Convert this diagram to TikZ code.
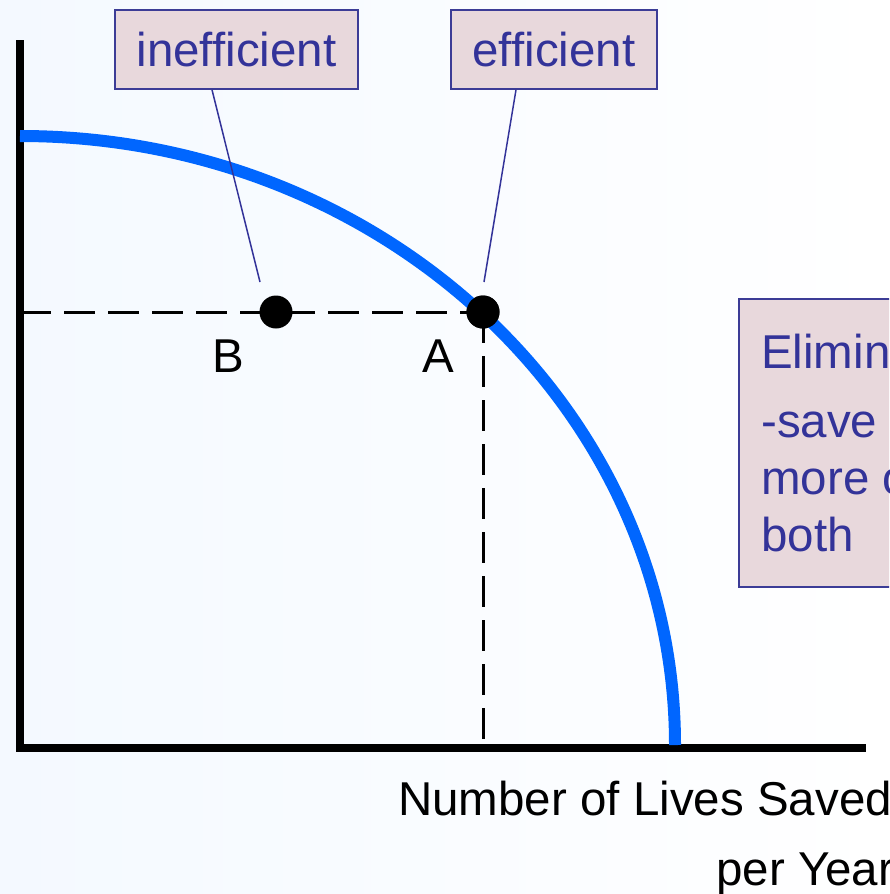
\documentclass[tikz,border=0pt]{standalone}
\usepackage{fontspec}
\setmainfont{Liberation Sans}
\definecolor{bgblue}{RGB}{244,249,255}
\definecolor{boxfill}{RGB}{232,216,220}
\definecolor{boxline}{RGB}{60,60,150}
\definecolor{txtblue}{RGB}{51,51,153}
\definecolor{curveblue}{RGB}{0,102,255}
\tikzset{
  bigfont/.style={font=\fontsize{47.5}{57}\selectfont},
  labelbox/.style={draw=boxline, line width=1.6pt, fill=boxfill, text=txtblue, bigfont,
    inner sep=0pt, text height=34.6pt, text depth=0pt},
  pointer/.style={draw=txtblue, line width=1.5pt},
  axisline/.style={line width=8pt, black},
  guide/.style={line width=3pt, black, dash pattern=on 31pt off 13pt},
  dotpt/.style={circle, fill=black, inner sep=0pt, minimum size=33pt},
  blacktext/.style={bigfont, text=black, inner sep=0pt, anchor=base west},
  boxtext/.style={bigfont, text=txtblue, inner sep=0pt, anchor=base west}
}
\begin{document}
\begin{tikzpicture}[x=1pt,y=-1pt]
\useasboundingbox (0,0) rectangle (889,894);
\clip (0,0) rectangle (889,894);
\shade[left color=bgblue, right color=white] (0,0) rectangle (889,894);
% axes
\coordinate (O) at (20,748);
\coordinate (ytop) at (20,40);
\coordinate (xend) at (866,748);
\draw[axisline] (ytop) -- (20,752);
\draw[axisline] (16,748) -- (xend);
% guides
\coordinate (yA) at (20,312);
\coordinate (xA) at (483,745);
\node[dotpt] (A) at (483,312) {};
\node[dotpt] (B) at (276,312) {};
\draw[guide] (yA) -- (A.center);
\draw[guide] (A.center) -- (xA);
% curve
\draw[curveblue, line width=12pt] (20,136) arc[start angle=-90, end angle=0, x radius=655, y radius=609];
\node[dotpt] at (A) {};
% point labels
\node[blacktext] (Blab) at (212,372) {B};
\node[blacktext] (Alab) at (422,372) {A};
% label boxes
\node[labelbox, minimum width=243pt, minimum height=79pt] (ineff) at (236.5,49.5) {inefficient};
\node[labelbox, minimum width=206pt, minimum height=79pt] (eff) at (554,49.5) {efficient};
\coordinate (ineffTip) at (260,282);
\coordinate (effTip) at (484,282);
\draw[pointer] ([xshift=-24.5pt]ineff.south) -- (ineffTip);
\draw[pointer] ([xshift=-38pt]eff.south) -- (effTip);
% right box
\node[draw=boxline, line width=1.6pt, fill=boxfill, minimum width=200pt, minimum height=288pt, anchor=north west, inner sep=0pt] (elim) at (738,298) {};
\node[boxtext] (l1) at (761,368) {Eliminate};
\node[boxtext] (l2) at (761,437) {-save lives};
\node[boxtext] (l3) at (761,494) {more or};
\node[boxtext] (l4) at (761,551) {both};
% x-axis title
\node[blacktext] (xt1) at (398,815) {Number of Lives Saved};
\node[blacktext] (xt2) at (716,885) {per Year};
\end{tikzpicture}
\end{document}
